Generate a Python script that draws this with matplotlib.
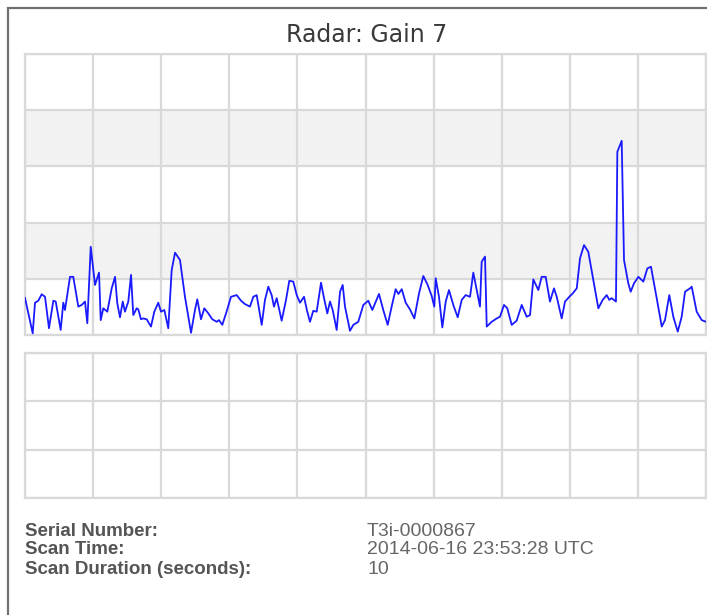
import matplotlib
matplotlib.use("Agg")
import matplotlib.pyplot as plt
from matplotlib.patches import Rectangle

# radar return, x in % of scan width, y in % of plot height
scan_pos = [0, 1.13, 1.47, 1.95, 2.45, 2.94, 3.52, 4.16, 4.51, 5.24, 5.62, 5.87, 6.61, 7.09,
            7.83, 8.33, 8.81, 9.15, 9.65, 10.28, 10.87, 11.12, 11.5, 12.09, 12.73, 13.22,
            13.55, 13.95, 14.35, 14.68, 15.17, 15.57, 15.9, 16.4, 16.64, 17.03, 17.38, 17.87,
            18.5, 18.99, 19.57, 19.97, 20.46, 21.04, 21.54, 22.03, 22.76, 23.49, 24.38, 24.96,
            25.3, 25.84, 26.33, 26.92, 27.5, 28.15, 28.49, 28.97, 29.6, 30.25, 31.09, 31.72,
            32.3, 33.04, 33.52, 34.02, 34.76, 35.24, 35.73, 36.22, 36.56, 36.96, 37.69, 38.33,
            38.81, 39.4, 39.9, 40.38, 40.97, 41.45, 41.85, 42.33, 42.83, 43.47, 43.91, 44.39,
            44.79, 45.18, 45.77, 46.26, 46.65, 46.99, 47.72, 48.21, 48.94, 49.68, 50.41, 51.0,
            51.98, 52.61, 53.26, 53.84, 54.43, 54.82, 55.32, 55.9, 56.53, 57.17, 57.86, 58.49,
            59.13, 59.72, 60.1, 60.31, 60.79, 61.28, 61.78, 62.26, 62.89, 63.54, 64.13, 64.71,
            65.35, 65.83, 66.33, 66.81, 67.06, 67.55, 67.8, 68.53, 69.27, 69.75, 70.34, 70.82,
            71.47, 72.2, 72.94, 73.67, 74.16, 74.64, 75.38, 75.87, 76.46, 77.09, 77.68, 78.08,
            78.81, 79.3, 79.93, 80.43, 81.02, 81.5, 82.09, 82.72, 83.45, 84.19, 84.83, 85.42,
            85.8, 86.15, 86.78, 86.98, 87.62, 87.96, 88.59, 88.94, 89.43, 90.07, 90.8, 91.39,
            91.92, 92.76, 93.5, 93.98, 94.61, 95.2, 95.85, 96.43, 96.92, 97.65, 97.9, 98.63,
            99.37, 100]
signal = [13.2, 0.6, 11.5, 12.2, 14.5, 13.6, 2.4, 12.2, 11.9, 1.8, 11.5, 8.9, 20.7, 20.7,
          10.1, 10.7, 11.9, 4.2, 31.4, 17.8, 22.2, 5.3, 9.5, 8.3, 16.6, 20.7,
          11.3, 6.3, 11.9, 8.3, 11.9, 21.4, 7.1, 9.5, 9.1, 5.6, 5.9, 5.6,
          3.0, 8.3, 11.5, 8.3, 8.9, 2.4, 23.1, 29.3, 26.7, 13.6, 0.8, 8.9,
          12.7, 5.6, 9.5, 7.7, 5.6, 4.7, 5.3, 3.6, 8.3, 13.6, 14.2, 12.2,
          11.0, 10.1, 13.6, 14.2, 3.6, 12.5, 17.2, 14.2, 10.1, 13.1, 5.1, 12.5,
          19.3, 19.0, 14.2, 11.5, 13.6, 8.3, 4.7, 8.6, 8.3, 18.6, 13.1, 7.7,
          11.9, 8.9, 1.8, 15.4, 17.8, 10.1, 1.5, 3.6, 4.7, 10.7, 12.2, 8.9,
          14.6, 8.9, 3.6, 10.1, 16.3, 14.6, 16.3, 11.5, 9.1, 5.9, 14.8, 21.0,
          17.8, 13.9, 10.1, 20.2, 13.6, 2.7, 11.9, 16.0, 10.7, 6.3, 12.5, 14.2,
          13.6, 22.2, 16.0, 10.1, 26.1, 27.9, 3.0, 4.7, 5.9, 6.5, 10.7, 9.5,
          3.6, 5.1, 10.7, 6.5, 7.1, 19.8, 16.0, 20.7, 20.7, 11.9, 16.6, 13.6,
          5.9, 11.9, 13.6, 14.8, 16.6, 27.3, 32.0, 29.6, 19.6, 9.5, 12.5, 14.2,
          12.5, 13.1, 11.9, 65.2, 69.1, 26.7, 18.4, 15.4, 18.4, 20.7, 19.0, 23.7,
          24.3, 13.1, 3.0, 5.3, 14.2, 6.5, 1.2, 6.5, 15.4, 16.6, 17.2, 8.3,
          5.3, 4.7]

info_labels = ["Serial Number:", "Scan Time:", "Scan Duration (seconds):"]
info_values = ["T3i-0000867", "2014-06-16 23:53:28 UTC", "10"]

grid_col = "#d9d9d9"

fig = plt.figure(figsize=(7.07, 6.15), dpi=100)
fig.patches.append(Rectangle((8 / 707, -0.1), 1.2, (615 - 8) / 615 + 0.1,
                             transform=fig.transFigure, fill=False,
                             edgecolor="#707070", linewidth=1.6))

fig.text(367 / 707, 1 - 35 / 615, "Radar: Gain 7", ha="center", va="center",
         fontsize=17, color="#3a3a3a", family="DejaVu Sans")

# top panel
ax = fig.add_axes([25 / 707, 1 - 335 / 615, 681 / 707, 281 / 615])
ax.set_xlim(0, 100)
ax.set_ylim(0, 100)
for lo in (20, 60):
    ax.axhspan(lo, lo + 20, color="#f2f2f2", zorder=0, lw=0)
ax.set_xticks(range(0, 101, 10))
ax.set_yticks(range(0, 101, 20))
ax.grid(True, color=grid_col, linewidth=1.6)
ax.plot(scan_pos, signal, color="#1a1aff", linewidth=1.3, zorder=3)

# lower panel (empty)
ax2 = fig.add_axes([25 / 707, 1 - 498 / 615, 681 / 707, 145 / 615])
ax2.set_xlim(0, 100)
ax2.set_ylim(0, 3)
ax2.set_xticks(range(0, 101, 10))
ax2.set_yticks(range(0, 4))
ax2.grid(True, color=grid_col, linewidth=1.6)

for a in (ax, ax2):
    a.tick_params(length=0, labelbottom=False, labelleft=False)
    for s in a.spines.values():
        s.set_color(grid_col)
        s.set_linewidth(1.6)
    a.set_axisbelow(True)

for i, (lab, val) in enumerate(zip(info_labels, info_values)):
    y = 1 - (531 + i * 19) / 615
    fig.text(25 / 707, y, lab, ha="left", va="center", fontsize=13.5,
             fontweight="bold", color="#555555", family="Liberation Sans")
    fig.text(367 / 707, y, val, ha="left", va="center", fontsize=14,
             color="#666666", family="Liberation Sans")

fig.savefig("out.png", dpi=100)
